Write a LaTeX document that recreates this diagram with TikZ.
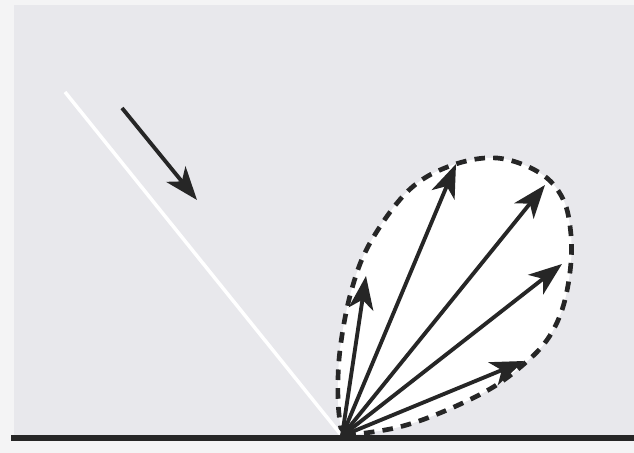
\documentclass[tikz,border=0pt]{standalone}
\usepackage{xcolor}
\definecolor{paper}{HTML}{F4F4F5}
\definecolor{bgpanel}{HTML}{E8E8EC}
\definecolor{ink}{HTML}{262626}
\usetikzlibrary{arrows.meta}

\begin{document}
\begin{tikzpicture}[
  x=0.03cm,y=-0.03cm,
  ray/.style={-{Stealth[length=1.0cm,width=0.74cm,inset=0.28cm]},color=ink,line width=3.3pt},
  lobe/.style={dash pattern=on 9pt off 7pt,color=ink,line width=4pt,fill=white},
  surface/.style={color=ink,line width=5.5pt},
  beam/.style={color=white,line width=3pt}
]
  \fill[paper] (0,0) rectangle (634,453);
  \fill[bgpanel] (14,5) rectangle (634,436);
  \useasboundingbox (0,0) rectangle (634,453);

  \coordinate (o) at (342,436);
  \coordinate (src) at (65,92);
  \coordinate (inA) at (122,108);
  \coordinate (inB) at (197,200);
  \coordinate (t1) at (366,276);
  \coordinate (t2) at (456,164);
  \coordinate (t3) at (545,185);
  \coordinate (t4) at (562,264);
  \coordinate (t5) at (524,361);
  \coordinate (bl) at (11,438);
  \coordinate (br) at (634,438);

  \draw[lobe] plot[smooth,tension=0.6] coordinates {(o) (338,400) (340,350)
    (351,292) (370,243) (408,191) (450,166) (497,158) (540,173) (563,199)
    (571,235) (570,272) (562,310) (547,340) (524,364) (490,389) (440,413)
    (395,428) (o)};

  \draw[beam] (src) -- (o);
  \draw[ray] (inA) -- (inB);

  \foreach \t in {t1,t2,t3,t4,t5}
    \draw[ray] (o) -- (\t);

  \draw[surface] (bl) -- (br);
\end{tikzpicture}
\end{document}
